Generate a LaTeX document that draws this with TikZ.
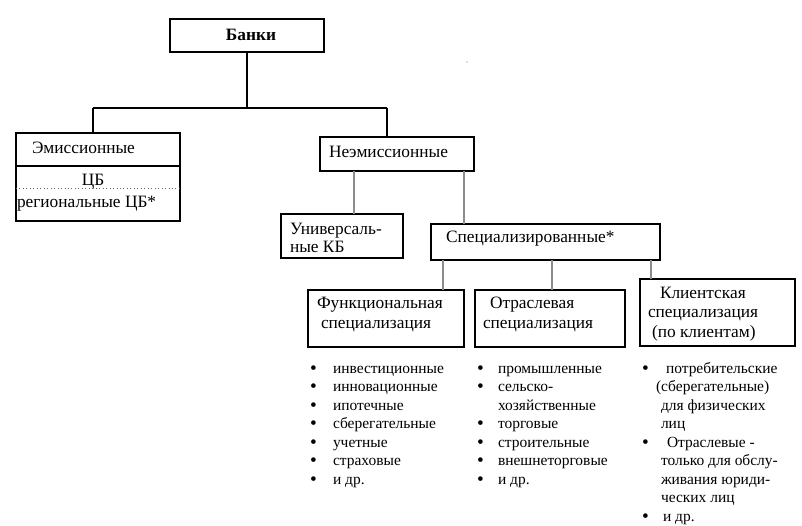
\documentclass[tikz,border=0pt]{standalone}
\usepackage{fontspec}
\setmainfont{Liberation Serif}
\newcommand\boxfont{\fontsize{13}{15}\selectfont}
\newcommand\listfont{\fontsize{11.6}{14}\selectfont}
\newcommand\bulfont{\fontsize{14.5}{14}\selectfont}
\tikzset{
  thinbox/.style={draw=black, line width=0.8pt, inner sep=0pt, outer sep=0pt},
  thickbox/.style={draw=black, line width=1.6pt, inner sep=0pt, outer sep=0pt},
  lbl/.style={anchor=base west, inner sep=0pt, outer sep=0pt, font=\boxfont},
  item/.style={anchor=base west, inner sep=0pt, outer sep=0pt, font=\listfont},
  bul/.style={anchor=base west, inner sep=0pt, outer sep=0pt, font=\bulfont},
  conn/.style={line width=0.8pt, draw=black},
  gconn/.style={line width=1.1pt, draw=black!45},
}
\newcommand\bx[6]{% style, name, x1, y1, x2, y2
  \node[#1, minimum width={(#5-#3)*0.75pt}, minimum height={(#6-#4)*0.75pt}] (#2) at ({(#3+#5)/2},{(#4+#6)/2}) {};}
\begin{document}
\begin{tikzpicture}[x=0.75pt,y=-0.75pt]
\useasboundingbox[fill=white] (0,0) rectangle (802,525);
% boxes
\bx{thinbox}{banki}{170}{19}{324}{52}
\bx{thinbox}{emis}{16}{133}{180}{221}
\bx{thickbox}{neem}{320}{137}{474}{171}
\bx{thickbox}{univ}{281}{214}{403}{258}
\bx{thickbox}{spec}{431}{224}{660}{260}
\bx{thickbox}{func}{308}{290}{464}{347}
\bx{thickbox}{otr}{475}{290}{625}{347}
\bx{thickbox}{klient}{640}{279}{795}{346}
% inner lines of emission box
\coordinate (eL1) at (16,166); \coordinate (eR1) at (180,166);
\coordinate (eL2) at (16,188); \coordinate (eR2) at (180,188);
\draw[line width=0.8pt] (eL1) -- (eR1);
\draw[line width=0.6pt, black!60, dotted] (eL2) -- (eR2);
% connectors
\coordinate (j0) at (247,108);
\coordinate (jl) at (93,108);
\coordinate (jr) at (387,108);
\draw[conn] (banki.south) -- (j0);
\draw[conn] (jl) -- (jr);
\draw[conn] (jl) -- (jl |- emis.north);
\draw[conn] (jr) -- (jr |- neem.north);
\coordinate (xu) at (354,0);
\coordinate (xs) at (464,0);
\draw[gconn] (neem.south -| xu) -- (univ.north -| xu);
\draw[gconn] (neem.south -| xs) -- (spec.north -| xs);
\coordinate (xf) at (443,0);
\coordinate (xo) at (552,0);
\coordinate (xk) at (651,0);
\draw[gconn] (spec.south -| xf) -- (func.north -| xf);
\draw[gconn] (spec.south -| xo) -- (otr.north -| xo);
\draw[gconn] (spec.south -| xk) -- (klient.north -| xk);
% small dot
\fill[black!50] (467,62) circle (0.6);
% box labels
\node[lbl, font=\boxfont\bfseries, anchor=base] (tbanki) at (251,40) {Банки};
\node[lbl] (temis) at (32,153) {Эмиссионные};
\node[lbl, anchor=base] (tcb) at (93,185) {ЦБ};
\node[lbl] (treg) at (17,207) {региональные ЦБ*};
\node[lbl] (tneem) at (329,157) {Неэмиссионные};
\node[lbl] (tuniv1) at (290,234) {Универсаль-};
\node[lbl] (tuniv2) at (290,252) {ные КБ};
\node[lbl] (tspec) at (446,242) {Специализированные*};
\node[lbl] (tfunc1) at (317,308) {Функциональная};
\node[lbl] (tfunc2) at (321,328) {специализация};
\node[lbl] (totr1) at (490,308) {Отраслевая};
\node[lbl] (totr2) at (483,328) {специализация};
\node[lbl] (tkl1) at (660,298) {Клиентская};
\node[lbl] (tkl2) at (648,317) {специализация};
\node[lbl] (tkl3) at (652,337) {(по клиентам)};
% functional list
\foreach \t [count=\i] in {инвестиционные,инновационные,ипотечные,сберегательные,учетные,страховые,и др.}{
  \node[bul] (fb\i) at (310,{374+(\i-1)*18.5}) {•};
  \node[item] (fi\i) at (333,{373+(\i-1)*18.5}) {\t};
}
% branch list
\foreach \t/\b [count=\i] in {промышленные/1,сельско-/1,хозяйственные/0,торговые/1,строительные/1,внешнеторговые/1,и др./1}{
  \ifnum\b=1 \node[bul] (ob\i) at (477,{374+(\i-1)*18.5}) {•};\fi
  \node[item] (oi\i) at (498,{373+(\i-1)*18.5}) {\t};
}
% client list
\node[bul] (kb1) at (642,374) {•};
\node[item] (ki1) at (666,373) {потребительские};
\node[item] (ki2) at (656,391.5) {(сберегательные)};
\node[item] (ki3) at (661,410) {для физических};
\node[item] (ki4) at (661,428.5) {лиц};
\node[bul] (kb5) at (642,448) {•};
\node[item] (ki5) at (667,447) {Отраслевые -};
\node[item] (ki6) at (661,465.5) {только для обслу-};
\node[item] (ki7) at (661,484) {живания юриди-};
\node[item] (ki8) at (661,502.5) {ческих лиц};
\node[bul] (kb9) at (642,522) {•};
\node[item] (ki9) at (663,521) {и др.};
\end{tikzpicture}
\end{document}
